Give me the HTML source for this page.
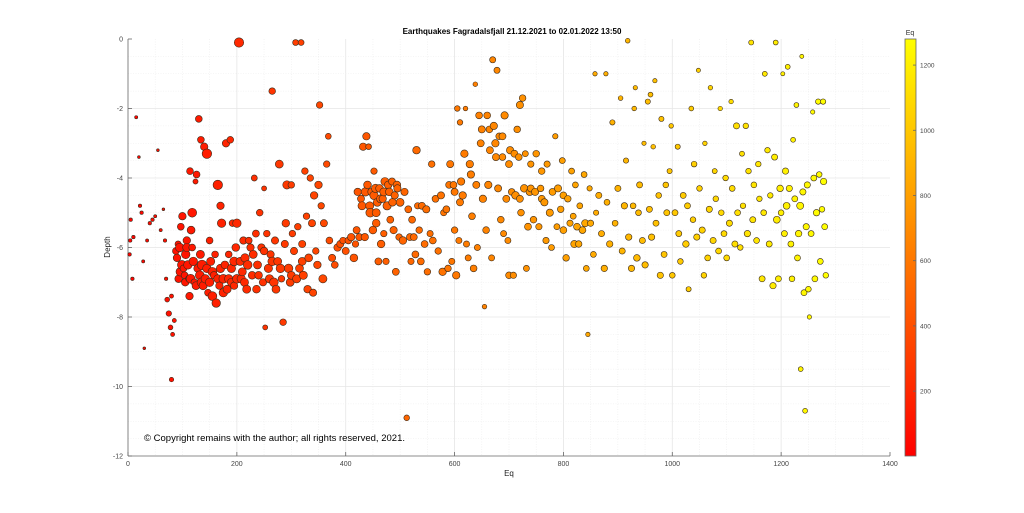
<!DOCTYPE html>
<html><head><meta charset="utf-8">
<style>
html,body{margin:0;padding:0;background:#fff;}
svg{display:block;font-family:"Liberation Sans",sans-serif;}
</style></head>
<body>
<svg id="chart" width="1024" height="513" viewBox="0 0 1024 513" xmlns="http://www.w3.org/2000/svg">
<rect x="0" y="0" width="1024" height="513" fill="#fff"/>
<g id="grid"></g>
<g id="axes"></g>
<g id="points"></g>
<g id="cbar"></g>
<text x="512" y="34" text-anchor="middle" font-size="8" font-weight="bold" fill="#000">Earthquakes Fagradalsfjall 21.12.2021 to 02.01.2022 13:50</text>
<text x="110" y="247" text-anchor="middle" font-size="8" fill="#222" transform="rotate(-90 110 247)">Depth</text>
<text x="509" y="476" text-anchor="middle" font-size="8" fill="#222">Eq</text>
<text x="144" y="441" font-size="9.5" fill="#000">© Copyright remains with the author; all rights reserved, 2021.</text>
<text x="910" y="35" text-anchor="middle" font-size="7" fill="#333">Eq</text>
</svg>
<script>
const eqIds=[5,8,10,15,20,22,25,28,30,35,40,45,50,55,60,65,68,70,72,75,78,80,82,85,80,4,3,
88,90,92,95,97,100,102,104,106,108,110,112,114,116,118,120,122,124,126,128,130,132,134,136,138,140,142,145,147,150,152,155,158,160,162,165,168,170,172,175,178,180,182,185,188,190,192,195,198,200,204,206,208,212,215,218,222,225,228,232,235,238,242,245,248,250,252,255,258,262,265,268,270,275,278,282,285,288,290,292,295,298,300,302,305,308,312,315,318,320,322,325,328,332,335,338,340,342,345,348,350,352,355,358,360,365,368,370,375,380,385,390,395,400,405,410,415,418,420,422,425,428,430,432,435,438,440,442,445,448,450,452,455,458,460,462,465,468,470,472,474,476,478,480,482,485,488,490,492,495,498,500,505,508,512,515,518,520,522,525,528,530,532,535,538,540,545,548,550,555,558,560,565,570,575,578,580,585,588,590,592,595,598,600,603,605,608,610,612,615,618,620,622,625,628,630,632,635,638,640,642,645,648,650,652,655,658,660,662,665,668,670,672,675,678,680,682,685,688,690,692,695,698,700,702,705,708,710,712,715,718,720,722,725,728,730,732,735,738,740,745,748,750,755,758,760,765,768,770,775,778,780,785,788,790,795,798,800,805,808,812,815,818,820,822,825,828,830,835,838,840,842,845,848,850,855,858,860,865,870,875,878,880,885,890,895,900,905,908,912,915,918,920,925,928,930,932,935,938,940,945,948,950,955,958,960,962,965,968,970,975,978,980,985,988,990,995,998,1000,1005,1010,1012,1015,1020,1025,1028,1030,1035,1038,1040,1045,1048,1050,1055,1058,1060,1065,1068,1070,1075,1078,1080,1085,1088,1090,1095,1098,1100,1105,1108,1110,1115,1118,1120,1125,1128,1130,1135,1138,1140,1145,1148,1150,1155,1158,1160,1165,1168,1170,1175,1178,1180,1185,1188,1190,1192,1195,1198,1200,1203,1206,1208,1210,1212,1215,1218,1220,1222,1225,1228,1230,1232,1235,1236,1238,1240,1242,1244,1246,1248,1250,1252,1255,1258,1260,1262,1265,1268,1270,1272,1275,1277,1278,1280,1282,
96,105,115,125,135,145,155,165,175,185,195,210,220,230,240,260,272,280,310,330,150,118,108,99,93,113,133,170,190,200,214,236,250,265,300,320,
436,444,452,456,464,470,486,494,456,600,610,664,676,688,700,720,740,760,800];
const depths=[-5.2,-6.9,-5.7,-2.25,-3.4,-4.8,-5.0,-6.4,-8.9,-5.8,-5.3,-5.2,-5.1,-3.2,-5.5,-4.9,-5.8,-6.9,-7.5,-7.9,-8.3,-9.8,-8.5,-8.1,-7.4,-5.8,-6.2,
-6.1,-6.3,-5.9,-6.0,-5.4,-5.1,-6.6,-6.8,-6.2,-5.8,-6.5,-6.9,-3.8,-5.5,-6.0,-6.4,-7.0,-4.1,-3.9,-6.6,-2.3,-6.8,-2.9,-6.5,-7.1,-3.1,-6.9,-3.3,-7.3,-7.0,-6.4,-7.4,-6.8,-6.2,-7.6,-4.2,-7.1,-4.8,-5.3,-6.9,-6.5,-3.0,-7.2,-6.2,-2.9,-6.6,-5.3,-7.1,-6.0,-5.3,-0.1,-6.4,-6.9,-5.8,-6.3,-7.2,-5.8,-6.0,-6.8,-4.0,-5.6,-6.5,-5.0,-6.0,-7.0,-4.3,-8.3,-5.6,-6.6,-6.2,-1.5,-7.0,-5.8,-6.4,-3.6,-6.9,-8.15,-5.9,-5.3,-4.2,-6.6,-7.0,-4.2,-5.6,-6.1,-0.1,-5.4,-6.6,-0.1,-5.9,-6.8,-3.8,-5.1,-6.3,-4.0,-5.3,-7.3,-4.5,-6.1,-6.5,-4.2,-1.9,-4.8,-6.9,-5.3,-3.6,-2.8,-5.8,-6.3,-6.5,-6.0,-5.9,-5.8,-6.1,-5.8,-5.7,-6.3,-5.9,-5.5,-4.4,-5.7,-4.6,-4.8,-3.1,-5.7,-2.8,-4.2,-3.1,-5.0,-4.4,-5.5,-3.8,-4.3,-4.7,-6.4,-4.3,-5.9,-4.6,-5.6,-4.1,-6.4,-4.8,-4.2,-4.4,-5.2,-4.1,-5.5,-4.5,-6.7,-4.3,-5.7,-4.7,-5.8,-4.4,-10.9,-4.9,-5.7,-6.4,-5.2,-5.7,-6.2,-3.2,-4.8,-5.5,-6.4,-4.8,-5.9,-4.9,-6.7,-5.6,-3.6,-5.8,-4.6,-6.1,-4.5,-6.7,-5.0,-4.9,-6.6,-4.2,-3.6,-6.4,-4.2,-5.5,-6.8,-2.0,-5.8,-2.4,-4.1,-4.5,-3.3,-2.0,-5.9,-6.3,-3.6,-3.9,-5.1,-6.6,-1.3,-4.2,-6.0,-2.2,-3.0,-2.6,-4.6,-7.7,-5.5,-2.2,-4.2,-3.2,-6.3,-0.6,-2.5,-3.0,-0.9,-4.3,-2.8,-5.2,-3.4,-5.6,-2.2,-4.6,-5.8,-6.8,-3.2,-4.4,-6.8,-3.3,-4.5,-2.6,-3.4,-1.9,-5.0,-1.7,-4.3,-3.3,-6.6,-5.4,-4.4,-3.6,-5.2,-4.4,-3.3,-5.4,-4.3,-3.8,-4.7,-5.8,-3.6,-5.0,-6.0,-4.4,-2.8,-5.4,-4.3,-4.9,-3.5,-5.5,-6.3,-4.6,-5.3,-3.8,-5.1,-5.9,-4.2,-5.4,-5.9,-4.8,-5.5,-3.9,-5.3,-6.6,-8.5,-4.3,-5.3,-6.2,-1.0,-5.0,-4.5,-5.6,-6.6,-1.0,-4.7,-5.9,-2.4,-5.3,-4.3,-1.7,-6.1,-4.8,-3.5,-0.05,-5.7,-6.6,-4.8,-2.0,-1.4,-6.3,-5.0,-4.2,-5.8,-3.0,-6.5,-1.8,-4.9,-1.6,-5.7,-3.1,-1.2,-5.3,-4.5,-6.8,-2.3,-6.2,-4.2,-5.0,-3.8,-2.5,-6.8,-5.0,-3.1,-5.6,-6.4,-4.5,-5.9,-4.8,-7.2,-2.0,-5.2,-3.6,-5.7,-0.9,-4.3,-5.5,-6.8,-3.0,-6.3,-4.9,-1.4,-5.8,-3.8,-4.6,-6.1,-2.0,-5.0,-5.6,-4.0,-6.3,-5.3,-1.8,-4.3,-5.9,-2.5,-5.0,-6.0,-3.3,-4.8,-2.5,-5.6,-3.8,-0.1,-5.2,-4.2,-5.8,-3.6,-4.6,-6.9,-5.0,-1.0,-3.2,-5.9,-4.5,-7.1,-3.4,-0.1,-5.2,-6.9,-4.3,-5.0,-1.0,-5.6,-3.8,-4.8,-0.8,-4.3,-5.9,-6.9,-2.9,-4.6,-1.9,-6.3,-5.6,-4.8,-9.5,-0.5,-4.4,-7.3,-10.7,-5.4,-4.2,-7.2,-8.0,-5.6,-2.1,-4.0,-6.9,-5.0,-1.8,-3.9,-6.4,-4.9,-1.8,-4.1,-5.4,-6.8,
-6.7,-7.0,-6.9,-7.1,-7.0,-6.6,-6.7,-6.9,-7.3,-6.9,-6.4,-6.7,-6.5,-6.2,-6.8,-6.9,-7.2,-6.6,-6.9,-7.2,-5.8,-5.0,-6.0,-6.5,-6.9,-7.4,-6.2,-6.6,-7.0,-6.9,-7.0,-7.2,-6.1,-6.4,-6.8,-6.4,
-4.4,-4.8,-4.5,-5.0,-4.6,-4.4,-4.7,-4.2,-5.3,-4.4,-4.7,-2.6,-3.4,-2.8,-3.6,-4.6,-4.3,-4.6,-4.5];
const mags=[1,1,1,0.9,0.8,1,1,0.9,0.8,0.9,1,1,0.9,0.8,0.9,0.8,1,1,1.4,1.6,1.4,1.3,1.2,1.2,1.2,1,1,
2,2.2,1.8,2.5,2,2.2,2,2,2.5,2.2,2.5,2,2,2.3,2,2.5,2,1.5,2,2.3,2,2.6,2,2.8,2.4,2.2,2.5,2.8,2,2.5,2.4,2.6,2.2,2,2.5,2.8,2.2,2.2,2.5,2.6,2.3,2.2,2.4,2,2,2.5,2,2.2,2.3,2.5,2.8,2.4,2.5,2.2,2.5,2.4,2,2.2,2.3,1.8,2.1,2.4,2,2.2,2.2,1.5,1.5,2,2.5,2.2,2,2.6,2.2,2.4,2.4,2,2,2.2,2.3,2.5,2.6,2.4,2,2,2.2,1.8,2,2.4,1.8,2.2,2.5,2,2,2.4,2,2.2,2.2,2.3,2,2.3,2.3,2,2,2.5,2.2,2,1.8,2.1,2.2,2.1,2.3,2.2,2,2.2,2.1,2.3,2.4,2,2.2,2.3,2.2,2.2,2.5,2.3,2.3,2.3,2.4,1.8,2.7,2.5,2.4,2,2.6,2.5,2.2,2.4,2.4,2.3,2,2.5,2,2.6,2.4,2.4,2.2,2.2,2.3,2.3,2.2,2.3,2.1,2.5,2.4,2.3,1.8,2.2,2.2,2,2.2,2.2,2.2,2.4,2,2.1,2.2,2.2,2.2,2.3,2.1,2,2.1,2.2,2.2,2.1,2.3,2.4,2,2.2,2.1,2.2,2.3,2,2.2,2.1,2.4,1.8,2,1.8,2.4,2.4,2.4,1.5,2,2,2.4,2.4,2.2,2.2,1.5,2.3,2,2.2,2.3,2.3,2.4,1.5,2.2,2.2,2.4,2.3,2,2,2.4,2.4,2,2.3,2.2,2.2,2.2,2,2.4,2.3,2,2.2,2.4,2.2,2.1,2.3,2.5,2.2,2.2,2.4,2.2,2.2,2.5,2,2,2.3,2.4,2.1,2.2,2.4,2.2,2.1,2.2,2.2,2.4,2.1,2.1,2.4,2,2.3,1.8,2,2.4,2.2,2,2.3,2.2,2.2,2.1,2,2,2.4,2,2.3,2.2,2,2.3,2,2.4,2,1.5,1.8,2.1,2,1.5,1.8,2.1,2.1,2.2,1.5,2,2.2,1.8,2,2.1,1.6,2.1,2.2,1.8,1.6,2.2,2.2,2,1.6,1.5,2.3,2,2.1,2.1,1.5,2.2,1.8,2.1,1.7,2.2,1.6,1.5,2.1,2,2.2,1.8,2.1,2,2.1,1.8,1.6,2,2.1,1.8,2.1,2,2.1,2.3,2.1,1.8,1.7,2,2,2.2,1.5,2,2.2,2,1.6,2.1,2.2,1.6,2.2,1.8,2,2.1,1.6,2,2.1,2,2.1,2.2,1.6,2.1,2.2,2.2,2.1,2,1.8,2,2,2.3,2,1.8,2.2,2.1,2.1,2,2,2.2,2.1,1.8,2,2.2,2,2.3,2.2,1.8,2.5,2.2,2.4,2.1,1.5,2.2,2.3,2.5,1.8,2.3,2.2,2.1,1.8,2.2,1.8,2.2,2.4,2.6,1.8,1.5,2.3,2.2,1.8,2.3,2.3,2.1,1.6,2.2,1.6,2.2,2.2,2.4,2,2.1,2.2,2.1,2,2.4,2.2,2.1,
2.5,2.2,2.6,2.3,2.6,2.5,2.6,2.4,2.5,2.5,2.6,2.4,2.6,2.4,2.3,2.5,2.4,2.6,2.5,2.3,2,2.6,2.4,2.6,2.2,2.2,2.4,2.5,2.4,2.6,2.4,2.3,2.3,2.6,2.4,2.4,
2.6,2.5,2.6,2.5,2.5,2.5,2.4,2.4,2.4,2.3,2.3,2.2,2.3,2.3,2.3,2.3,2.3,2.3,2.3];
const xTicks=[0,200,400,600,800,1000,1200,1400];
const yTicks=[0,-2,-4,-6,-8,-10,-12];
const cTicks=[200,400,600,800,1000,1200];

const NS="http://www.w3.org/2000/svg";
const PL=128,PR=890,PT=39,PB=456;
const X0=0,X1=1400,Y0=-12,Y1=0,C0=1,C1=1280;
const CBL=905,CBR=916;
function xs(v){return PL+(v-X0)/(X1-X0)*(PR-PL);}
function ys(v){return PB-(v-Y0)/(Y1-Y0)*(PB-PT);}
function cy(v){return PB-(v-C0)/(C1-C0)*(PB-PT);}
function cmap(v){const t=Math.max(0,Math.min(1,(v-C0)/(C1-C0)));return `rgb(255,${Math.round(255*t)},0)`;}
function mk(tag,attrs,parent){const e=document.createElementNS(NS,tag);for(const k in attrs)e.setAttribute(k,attrs[k]);parent.appendChild(e);return e;}

const grid=document.getElementById('grid');
for(let v=50;v<1400;v+=50){
  const major=v%200===0;
  const l=mk('line',{x1:xs(v),x2:xs(v),y1:PT,y2:PB,stroke:major?'#e6e6e6':'#ececec','stroke-width':major?0.8:0.6,'stroke-dasharray':major?'':'1,1.5'},grid);
  
  
}
for(let v=-11.5;v<0;v+=0.5){
  const major=Math.abs(v%2)<1e-9;
  const l=mk('line',{x1:PL,x2:PR,y1:ys(v),y2:ys(v),stroke:major?'#e6e6e6':'#ececec','stroke-width':major?0.8:0.6,'stroke-dasharray':major?'':'1,1.5'},grid);
  
  
}

const axes=document.getElementById('axes');
const xa=mk('line',{x1:PL,x2:PR,y1:PB,y2:PB,stroke:'#666','stroke-width':0.8},axes);


const ya=mk('line',{x1:PL,x2:PL,y1:PT,y2:PB,stroke:'#666','stroke-width':0.8},axes);


xTicks.forEach(v=>{
  mk('line',{x1:xs(v),x2:xs(v),y1:PB,y2:PB-4,stroke:'#666','stroke-width':0.8},axes);
  const t=mk('text',{x:xs(v),y:PB+10,'text-anchor':'middle','font-size':7,fill:'#444'},axes);
  t.textContent=v;
  
  
});
yTicks.forEach(v=>{
  mk('line',{x1:PL,x2:PL+4,y1:ys(v),y2:ys(v),stroke:'#666','stroke-width':0.8},axes);
  const t=mk('text',{x:PL-5,y:ys(v)+2.5,'text-anchor':'end','font-size':7,fill:'#444'},axes);
  t.textContent=v;
  
  
});

const pts=document.getElementById('points');
const order=eqIds.map((e,i)=>i).sort((a,b)=>eqIds[a]-eqIds[b]);
order.forEach(i=>{
  const scale=1.75-0.4*eqIds[i]/1280;
  const c=mk('circle',{cx:xs(eqIds[i]).toFixed(1),cy:ys(depths[i]).toFixed(1),r:(mags[i]*scale).toFixed(2),fill:cmap(eqIds[i]),stroke:'#3a2a1a','stroke-width':0.6},pts);
  
  
});

const cb=document.getElementById('cbar');
const defs=mk('defs',{},cb);
const grad=mk('linearGradient',{id:'autumn',x1:0,y1:1,x2:0,y2:0},defs);
mk('stop',{offset:0,'stop-color':'rgb(255,0,0)'},grad);
mk('stop',{offset:1,'stop-color':'rgb(255,255,0)'},grad);
const cr=mk('rect',{x:CBL,y:PT,width:CBR-CBL,height:PB-PT,fill:'url(#autumn)',stroke:'#666','stroke-width':0.8},cb);


cTicks.forEach(v=>{
  mk('line',{x1:CBR-3,x2:CBR,y1:cy(v),y2:cy(v),stroke:'#666','stroke-width':0.8},cb);
  const t=mk('text',{x:CBR+4,y:cy(v)+2.5,'font-size':6.5,fill:'#444'},cb);
  t.textContent=v;
  
  
});
</script>
</body></html>
